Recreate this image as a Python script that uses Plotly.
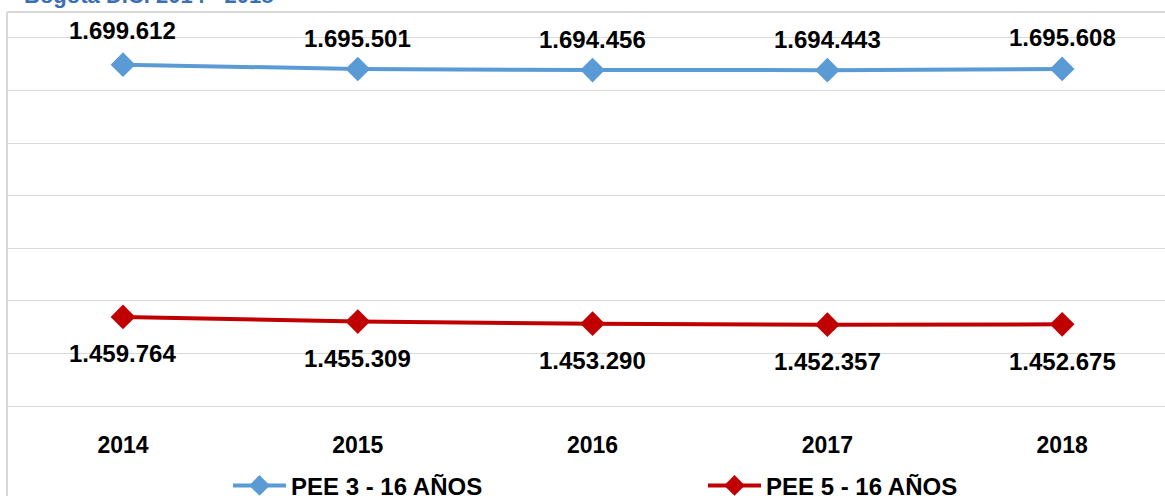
import plotly.graph_objects as go

# chart data
years = ["2014", "2015", "2016", "2017", "2018"]
pee_3_16 = [1699612, 1695501, 1694456, 1694443, 1695608]
pee_5_16 = [1459764, 1455309, 1453290, 1452357, 1452675]
series_names = ["PEE 3 - 16 AÑOS", "PEE 5 - 16 AÑOS"]

BLUE = "#5B9BD5"
RED = "#C00000"
GRID = "#D9D9D9"
FONT = "Liberation Sans, Arial, sans-serif"


def fmt(v):
    # thousands separated by dots, as in the Spanish original
    return f"{v:,}".replace(",", ".")


fig = go.Figure()
fig.add_trace(go.Scatter(x=years, y=pee_3_16, name=f"<b>{series_names[0]}</b>", mode="lines+markers",
                         line=dict(color=BLUE, width=4),
                         marker=dict(symbol="diamond", size=19, color=BLUE),
                         legend="legend"))
fig.add_trace(go.Scatter(x=years, y=pee_5_16, name=f"<b>{series_names[1]}</b>", mode="lines+markers",
                         line=dict(color=RED, width=4),
                         marker=dict(symbol="diamond", size=19, color=RED),
                         legend="legend2"))

# data labels (x given as category index)
for i, v in enumerate(pee_3_16):
    fig.add_annotation(x=i, y=v, text=f"<b>{fmt(v)}</b>", showarrow=False,
                       yshift=34 if i == 0 else 31,
                       font=dict(family=FONT, size=24, color="black"))
for i, v in enumerate(pee_5_16):
    fig.add_annotation(x=i, y=v, text=f"<b>{fmt(v)}</b>", showarrow=False, yshift=-37,
                       font=dict(family=FONT, size=24, color="black"))

# title, mostly cropped off at the top of the picture
fig.add_annotation(xref="paper", yref="paper", x=0.013, y=1.0772, xanchor="left", yanchor="bottom",
                   text="<b>Bogotá D.C. 2014 - 2018</b>", showarrow=False,
                   font=dict(family=FONT, size=22, color="#3A6FB4"))

# chart area border
fig.add_shape(type="line", xref="paper", yref="paper", x0=0, x1=0, y0=-0.3, y1=1.0707,
              line=dict(color=GRID, width=2))
fig.add_shape(type="line", xref="paper", yref="paper", x0=0, x1=1.05, y0=1.0707, y1=1.0707,
              line=dict(color=GRID, width=2))

legend_style = dict(orientation="h", xanchor="left", yanchor="middle", y=-0.217,
                    bgcolor="rgba(0,0,0,0)", itemwidth=53,
                    font=dict(family=FONT, size=24, color="black"))

fig.update_layout(
    width=1165, height=496,
    margin=dict(l=7, r=0, t=38, b=90, autoexpand=False),
    paper_bgcolor="white", plot_bgcolor="white",
    font=dict(family=FONT, color="black"),
    showlegend=True,
    legend=dict(x=(228 - 7) / 1158, **legend_style),
    legend2=dict(x=(703 - 7) / 1158, **legend_style),
)
fig.update_xaxes(type="category", range=[-0.494, 4.438], automargin=False,
                 showgrid=False, showline=True, linecolor=GRID, linewidth=1, mirror=True,
                 ticks="outside", ticklen=18, tickcolor="rgba(0,0,0,0)",
                 tickfont=dict(family=FONT, size=23, color="black"),
                 tickprefix="<b>", ticksuffix="</b>")
fig.update_yaxes(range=[1375000, 1725000], tick0=1375000, dtick=50000, automargin=False,
                 showgrid=True, gridcolor=GRID, gridwidth=1, zeroline=False,
                 showticklabels=False, showline=False)

# drop the default page margin so the figure sits at the window's corner
fig.write_html("out.html", config={"displayModeBar": False},
               post_script="document.body.style.margin='0';")
